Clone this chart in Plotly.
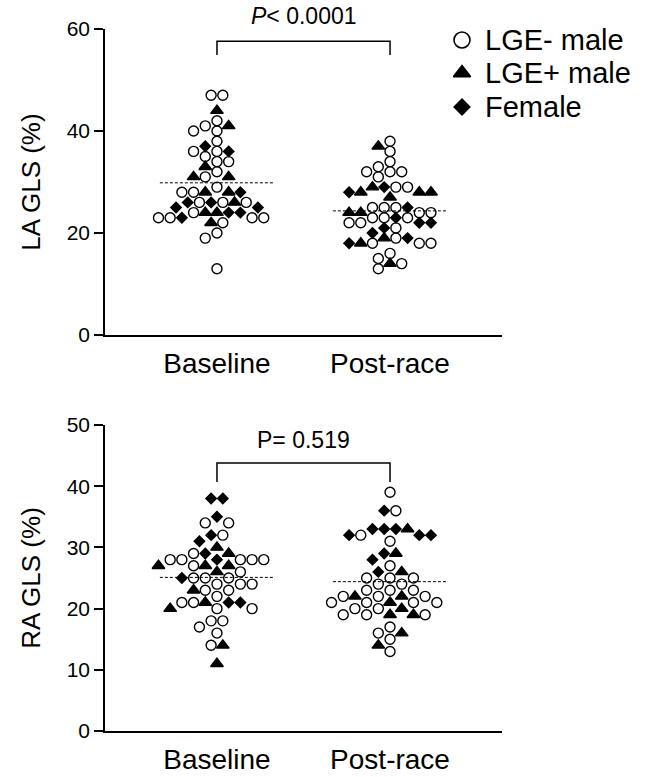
import numpy as np
import plotly.graph_objects as go

# ---- data ---------------------------------------------------------------
CATEGORIES = ["Baseline", "Post-race"]
GROUP_NAMES = {"O": "LGE- male", "T": "LGE+ male", "D": "Female"}

# LA global longitudinal strain (%), row by row, left to right
la_baseline_values = [47, 47, 44, 42, 41, 40, 40, 41, 38, 37, 36, 36, 36, 35, 34, 34, 33, 32,
                      31, 31, 31, 29, 28, 28, 28, 28, 28, 26, 26, 26, 26, 26, 26, 25, 25,
                      24, 24, 24, 24, 24, 23, 23, 23, 23, 23, 22, 22, 20, 19, 13]
la_baseline_groups = ["O", "O", "T", "O", "O", "O", "O", "T", "O", "D", "O", "O", "D", "O", "O", "O", "T", "O",
                      "T", "O", "T", "O", "O", "O", "T", "T", "D", "D", "O", "D", "O", "T", "O", "D", "D",
                      "O", "T", "T", "D", "D", "O", "O", "D", "O", "O", "T", "O", "O", "O", "O"]

la_post_values = [38, 37, 36, 34, 33, 32, 32, 32, 31, 29, 29, 29, 29, 28, 28, 28, 28, 27,
                  25, 25, 25, 25, 24, 24, 24, 24, 23, 23, 23, 23, 22, 22, 22, 22, 21, 21, 20,
                  19, 19, 19, 18, 18, 18, 18, 18, 16, 15, 14, 14, 13]
la_post_groups = ["O", "T", "O", "O", "O", "O", "O", "O", "O", "T", "D", "O", "O", "D", "T", "T", "T", "T",
                  "O", "O", "O", "D", "T", "T", "O", "O", "O", "O", "D", "O", "O", "O", "D", "D", "D", "O", "D",
                  "T", "O", "D", "D", "T", "O", "O", "O", "O", "O", "T", "O", "O"]

# RA global longitudinal strain (%), row by row, left to right
ra_baseline_values = [38, 38, 35, 34, 34, 32, 32, 31, 30, 29, 29, 29, 28, 28, 28, 28, 28, 28,
                      27, 27, 27, 27, 26, 26, 25, 25, 25, 25, 24, 24, 24, 23, 23, 23, 22,
                      21, 21, 21, 21, 21, 20, 20, 20, 18, 18, 17, 16, 14, 14, 11]
ra_baseline_groups = ["D", "D", "D", "O", "O", "D", "O", "D", "T", "O", "D", "T", "O", "O", "D", "O", "O", "O",
                      "T", "O", "T", "T", "T", "O", "D", "O", "O", "O", "O", "O", "O", "T", "O", "O", "O",
                      "O", "O", "T", "D", "D", "T", "O", "O", "O", "O", "O", "O", "O", "T", "T"]

ra_post_values = [39, 36, 36, 33, 33, 33, 33, 32, 32, 32, 32, 31, 29, 29, 28, 27, 26, 26,
                  25, 25, 25, 24, 24, 23, 23, 23, 22, 22, 22, 22, 22, 21, 21, 21, 21, 21,
                  20, 20, 20, 19, 19, 19, 19, 19, 17, 16, 16, 15, 14, 13]
ra_post_groups = ["O", "D", "O", "D", "D", "D", "T", "D", "O", "D", "D", "O", "D", "T", "D", "O", "D", "T",
                  "O", "O", "O", "O", "O", "O", "O", "O", "O", "T", "O", "T", "O", "O", "O", "T", "O", "O",
                  "O", "O", "T", "O", "O", "T", "T", "O", "O", "O", "T", "O", "T", "O"]

LA_P_TEXT = "<i>P</i>< 0.0001"
RA_P_TEXT = "P= 0.519"

# ---- geometry -------------------------------------------------------------
FIG_W, FIG_H = 650, 777
FONT = "Liberation Sans, Arial, Helvetica, sans-serif"
X_LEFT_PX, X_RIGHT_PX = 105, 502
X_RANGE = [0.353, 2.647]
PX_PER_X = (X_RIGHT_PX - X_LEFT_PX) / (X_RANGE[1] - X_RANGE[0])

TOP_DOMAIN = [1 - 335 / FIG_H, 1 - 29 / FIG_H]
BOT_DOMAIN = [1 - 731 / FIG_H, 1 - 425 / FIG_H]
TOP_RANGE = [0, 60]
BOT_RANGE = [0, 50]

STEP_PX = 11.7      # horizontal spacing of neighbouring dots
MIN_GAP_PX = 10.0   # closest allowed centre distance between dots

SYMBOLS = {"O": "circle-open", "T": "triangle-up", "D": "diamond"}
SIZES = {"O": 10, "T": 11, "D": 8}
KEY_SIZES = {"O": 16, "T": 15, "D": 12}


def swarm_offsets(values, px_per_val):
    """Spread equal/near values sideways on a half-step grid so dots don't overlap."""
    vals = np.asarray(values, dtype=float)
    off = np.zeros(len(vals))
    placed = []
    for v in sorted(set(vals), reverse=True):
        idx = [i for i, val in enumerate(vals) if val == v]
        y = v * px_per_val
        best = None
        for parity in (None, 0, 1):
            ks = [k for k in range(-40, 41) if parity is None or abs(k) % 2 == parity]
            ks.sort(key=lambda k: (abs(k), k))
            picks = []
            for k in ks:
                x = k * STEP_PX / 2
                pts = placed + [(p, y) for p in picks]
                if all(np.hypot(x - px, y - py) >= MIN_GAP_PX for px, py in pts):
                    picks.append(x)
                    if len(picks) == len(idx):
                        break
            score = sum(abs(p) for p in picks) + abs(sum(picks))
            if best is None or score < best[0]:
                best = (score, sorted(picks))
        for i, x in zip(idx, best[1]):
            off[i] = x / PX_PER_X
            placed.append((x, y))
    return off


fig = go.Figure()

panels = [
    ("x", "y", TOP_DOMAIN, TOP_RANGE,
     [(la_baseline_values, la_baseline_groups), (la_post_values, la_post_groups)]),
    ("x2", "y2", BOT_DOMAIN, BOT_RANGE,
     [(ra_baseline_values, ra_baseline_groups), (ra_post_values, ra_post_groups)]),
]

for xa, ya, dom, yr, cols in panels:
    px_per_val = (dom[1] - dom[0]) * FIG_H / (yr[1] - yr[0])
    for ci, (vals, grps) in enumerate(cols):
        center = ci + 1
        offs = swarm_offsets(vals, px_per_val)
        for g in ["O", "T", "D"]:
            sel = [i for i, gg in enumerate(grps) if gg == g]
            fig.add_trace(go.Scatter(
                x=[center + offs[i] for i in sel], y=[vals[i] for i in sel],
                mode="markers", xaxis=xa, yaxis=ya, showlegend=False, hoverinfo="skip",
                name=GROUP_NAMES[g],
                marker=dict(symbol=SYMBOLS[g], size=SIZES[g], color="black",
                            line=dict(color="black", width=1.4)),
            ))
        mean = float(np.mean(vals))
        fig.add_trace(go.Scatter(
            x=[center - 0.33, center + 0.33], y=[mean, mean], mode="lines",
            xaxis=xa, yaxis=ya, showlegend=False, hoverinfo="skip",
            line=dict(color="black", width=1, dash="3px,2px"),
        ))

# legend keys, drawn on a pixel-scaled overlay axis
KEY_X_PX = 462
KEY_Y_PX = [40, 73, 107]
KEY_TEXT_X_PX = 483
for g, ky in zip(["O", "T", "D"], KEY_Y_PX):
    fig.add_trace(go.Scatter(
        x=[KEY_X_PX], y=[ky], mode="markers", xaxis="x3", yaxis="y3",
        showlegend=False, hoverinfo="skip",
        marker=dict(symbol=SYMBOLS[g], size=KEY_SIZES[g], color="black",
                    line=dict(color="black", width=1.6)),
    ))
    fig.add_annotation(x=KEY_TEXT_X_PX / FIG_W, y=1 - ky / FIG_H, xref="paper", yref="paper",
                       xanchor="left", yanchor="middle", text=GROUP_NAMES[g], showarrow=False,
                       font=dict(size=29, color="black", family=FONT))

# significance brackets
def bracket(xa, ya, y_low, y_high):
    fig.add_shape(type="path", xref=xa, yref=ya,
                  path=f"M 1,{y_low} L 1,{y_high} L 2,{y_high} L 2,{y_low}",
                  line=dict(color="black", width=1.5))

bracket("x", "y", 54.9, 57.6)
bracket("x2", "y2", 40.7, 43.8)

mid_x = (X_LEFT_PX + PX_PER_X * (1.5 - X_RANGE[0])) / FIG_W
fig.add_annotation(x=mid_x, y=1 - 16 / FIG_H, xref="paper", yref="paper", text=LA_P_TEXT,
                   showarrow=False, yanchor="middle",
                   font=dict(size=23, color="black", family=FONT))
fig.add_annotation(x=mid_x, y=1 - 440 / FIG_H, xref="paper", yref="paper", text=RA_P_TEXT,
                   showarrow=False, yanchor="middle",
                   font=dict(size=23, color="black", family=FONT))

x_common = dict(range=X_RANGE, domain=[X_LEFT_PX / FIG_W, X_RIGHT_PX / FIG_W],
                tickvals=[1, 2], ticktext=CATEGORIES, ticks="", showline=True,
                linecolor="black", linewidth=1.5, showgrid=False, zeroline=False,
                automargin=False,
                tickfont=dict(size=28, color="black", family=FONT), ticklabelstandoff=3)
y_common = dict(showline=True, linecolor="black", linewidth=1.5, showgrid=False,
                zeroline=False, ticks="outside", ticklen=9, tickwidth=1.5, tickcolor="black",
                automargin=False,
                tickfont=dict(size=21, color="black", family=FONT))

fig.update_layout(
    width=FIG_W, height=FIG_H,
    margin=dict(l=0, r=0, t=0, b=0),
    paper_bgcolor="white", plot_bgcolor="rgba(0,0,0,0)",
    font=dict(family=FONT, color="black"),
    showlegend=False,
    xaxis=dict(anchor="y", **x_common),
    xaxis2=dict(anchor="y2", **x_common),
    yaxis=dict(anchor="x", domain=TOP_DOMAIN, range=TOP_RANGE, dtick=20,
               title=dict(text="LA GLS (%)", font=dict(size=26, family=FONT), standoff=19),
               **y_common),
    yaxis2=dict(anchor="x2", domain=BOT_DOMAIN, range=BOT_RANGE, dtick=10,
                title=dict(text="RA GLS (%)", font=dict(size=26, family=FONT), standoff=19),
                **y_common),
    xaxis3=dict(domain=[0, 1], range=[0, FIG_W], visible=False, anchor="y3", fixedrange=True),
    yaxis3=dict(domain=[0, 1], range=[FIG_H, 0], visible=False, anchor="x3", fixedrange=True),
)

fig.write_html("out.html")
